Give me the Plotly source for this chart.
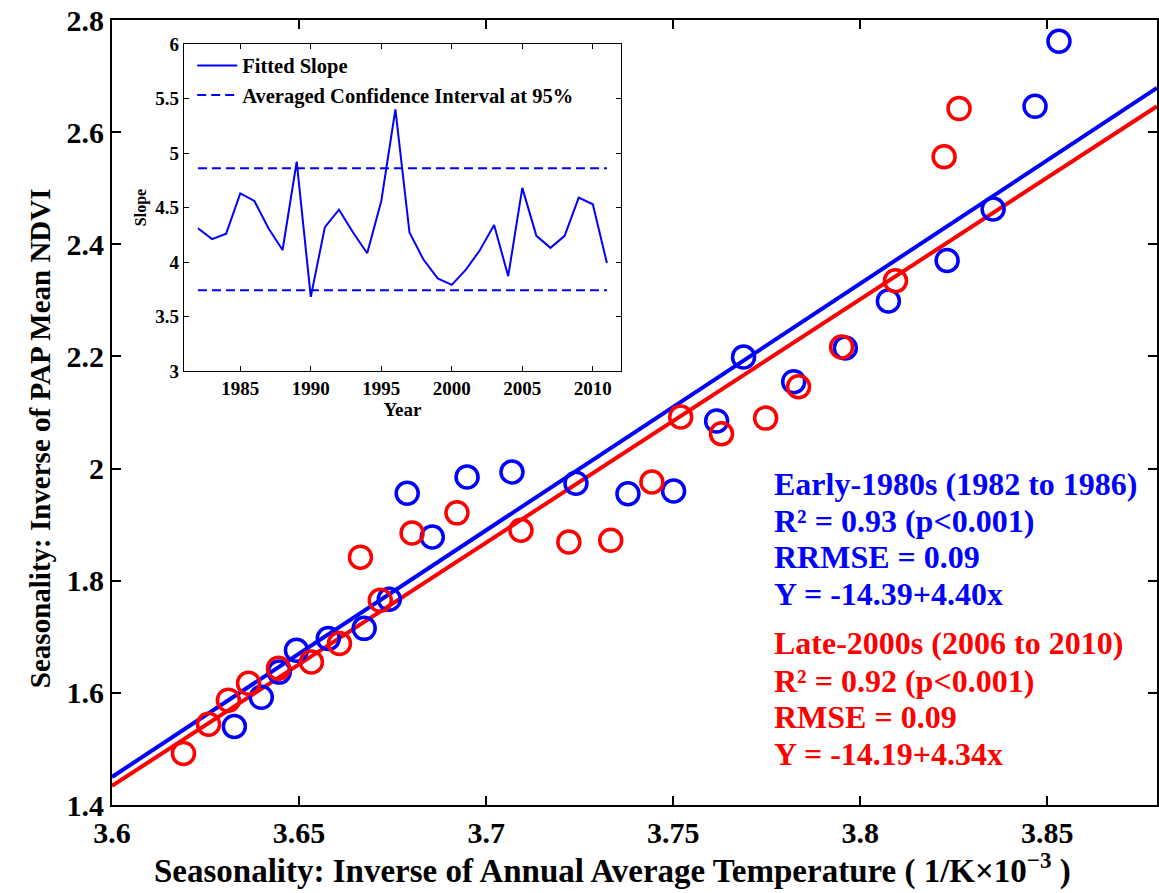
import plotly.graph_objects as go

# ---------------- data ----------------
early_x = [3.8531, 3.8467, 3.8355, 3.8232, 3.8075, 3.7960, 3.7822, 3.7688, 3.7616, 3.7501,
           3.7379, 3.7240, 3.7069, 3.6949, 3.6856, 3.6789, 3.6741, 3.6674, 3.6578, 3.6493,
           3.6447, 3.6399, 3.6327]
early_y = [2.762, 2.646, 2.463, 2.371, 2.299, 2.215, 2.155, 2.199, 2.085, 1.960,
           1.955, 1.974, 1.994, 1.985, 1.878, 1.956, 1.767, 1.715, 1.697, 1.676,
           1.637, 1.592, 1.540]
late_x = [3.8264, 3.8224, 3.8094, 3.7950, 3.7835, 3.7747, 3.7629, 3.7520, 3.7443, 3.7333,
          3.7221, 3.7093, 3.6922, 3.6802, 3.6664, 3.6717, 3.6608, 3.6533, 3.6445, 3.6365,
          3.6311, 3.6258, 3.6191]
late_y = [2.642, 2.556, 2.335, 2.217, 2.146, 2.090, 2.062, 2.092, 1.976, 1.872,
          1.869, 1.890, 1.921, 1.885, 1.842, 1.765, 1.688, 1.655, 1.644, 1.617,
          1.587, 1.544, 1.492]
early_intercept, early_slope = -14.39, 4.40
late_intercept, late_slope = -14.19, 4.34

years = list(range(1982, 2012))
fitted_slope = [4.31, 4.21, 4.26, 4.63, 4.56, 4.31, 4.11, 4.92, 3.68, 4.32,
                4.48, 4.27, 4.08, 4.56, 5.40, 4.27, 4.02, 3.85, 3.79, 3.93,
                4.11, 4.34, 3.87, 4.68, 4.24, 4.13, 4.24, 4.59, 4.53, 3.99]
ci_upper = 4.86
ci_lower = 3.74

x_ticks = [3.6, 3.65, 3.7, 3.75, 3.8, 3.85]
x_ticklabels = ["3.6", "3.65", "3.7", "3.75", "3.8", "3.85"]
y_ticks = [1.4, 1.6, 1.8, 2.0, 2.2, 2.4, 2.6, 2.8]
y_ticklabels = ["1.4", "1.6", "1.8", "2", "2.2", "2.4", "2.6", "2.8"]
inset_xticks = [1985, 1990, 1995, 2000, 2005, 2010]
inset_yticks = [3, 3.5, 4, 4.5, 5, 5.5, 6]
inset_yticklabels = ["3", "3.5", "4", "4.5", "5", "5.5", "6"]

x_title = "Seasonality: Inverse of Annual Average Temperature ( 1/K×10<sup>−3</sup> )"
y_title = "Seasonality: Inverse of PAP Mean NDVI"
early_text = ["Early-1980s (1982 to 1986)", "R² = 0.93 (p&lt;0.001)", "RRMSE = 0.09", "Y = -14.39+4.40x"]
late_text = ["Late-2000s (2006 to 2010)", "R² = 0.92 (p&lt;0.001)", "RMSE = 0.09", "Y = -14.19+4.34x"]

# ---------------- styling ----------------
BLUE = "#0000FF"
RED = "#FF0000"
SERIF = "Liberation Serif, Times New Roman, serif"
W, H = 1159, 893
ML, MR, MT, MB = 112, 0, 20, 88
x_range = [3.6, 3.8793]
y_range = [1.4, 2.8]
pw = W - ML - MR
ph = H - MT - MB


def px_x(p):
    return (p - ML) / pw


def px_y(p):
    return (H - MB - p) / ph


fig = go.Figure()

# fitted lines from the regression equations
fig.add_trace(go.Scatter(x=x_range, y=[early_intercept + early_slope * v for v in x_range],
                         mode="lines", line=dict(color=BLUE, width=4), showlegend=False,
                         xaxis="x", yaxis="y"))
fig.add_trace(go.Scatter(x=x_range, y=[late_intercept + late_slope * v for v in x_range],
                         mode="lines", line=dict(color=RED, width=4), showlegend=False,
                         xaxis="x", yaxis="y"))
fig.add_trace(go.Scatter(x=early_x, y=early_y, mode="markers",
                         marker=dict(symbol="circle-open", size=22, color=BLUE, line=dict(width=3.5, color=BLUE)),
                         showlegend=False, xaxis="x", yaxis="y"))
fig.add_trace(go.Scatter(x=late_x, y=late_y, mode="markers",
                         marker=dict(symbol="circle-open", size=22, color=RED, line=dict(width=3.5, color=RED)),
                         showlegend=False, xaxis="x", yaxis="y"))

# inset
fig.add_trace(go.Scatter(x=years, y=fitted_slope, mode="lines", name="<b>Fitted Slope</b>",
                         line=dict(color=BLUE, width=2), xaxis="x2", yaxis="y2"))
fig.add_trace(go.Scatter(x=[years[0], years[-1], None, years[0], years[-1]],
                         y=[ci_upper, ci_upper, None, ci_lower, ci_lower],
                         mode="lines", name="<b>Averaged Confidence Interval at 95%</b>",
                         line=dict(color=BLUE, width=2, dash="9px,5px"), xaxis="x2", yaxis="y2"))

ix0, ix1 = px_x(184), px_x(622)
iy0, iy1 = px_y(371), px_y(44)

axis_common = dict(showgrid=False, zeroline=False, linecolor="black", mirror="ticks",
                   ticks="inside", tickcolor="black")

fig.update_layout(
    width=W, height=H,
    margin=dict(l=ML, r=MR, t=MT, b=MB),
    paper_bgcolor="white", plot_bgcolor="white",
    font=dict(family=SERIF, color="black"),
    xaxis=dict(range=x_range, tickvals=x_ticks, ticktext=[f"<b>{t}</b>" for t in x_ticklabels],
               tickfont=dict(size=30), linewidth=2, ticklen=9, tickwidth=1.5,
               **axis_common),
    yaxis=dict(range=y_range, tickvals=y_ticks, ticktext=[f"<b>{t}</b>" for t in y_ticklabels],
               tickfont=dict(size=30), linewidth=2, ticklen=9, tickwidth=1.5,
               **axis_common),
    xaxis2=dict(domain=[ix0, ix1], anchor="y2", range=[1981, 2012], tickvals=inset_xticks,
                ticktext=[f"<b>{t}</b>" for t in inset_xticks], tickfont=dict(size=19),
                linewidth=1.2, ticklen=5, tickwidth=1,
                title=dict(text="<b>Year</b>", font=dict(size=19), standoff=0),
                **axis_common),
    yaxis2=dict(domain=[iy0, iy1], anchor="x2", range=[3, 6], tickvals=inset_yticks,
                ticktext=[f"<b>{t}</b>" for t in inset_yticklabels], tickfont=dict(size=19),
                linewidth=1.2, ticklen=5, tickwidth=1,
                title=dict(text="<b>Slope</b>", font=dict(size=16), standoff=4),
                **axis_common),
    legend=dict(x=ix0 + 0.008, y=iy1 - 0.002, xanchor="left", yanchor="top",
                bgcolor="rgba(0,0,0,0)", font=dict(size=20.5, family=SERIF),
                tracegroupgap=0, itemwidth=40),
)

# axis titles
fig.add_annotation(xref="paper", yref="paper", x=px_x(613), y=px_y(868), xanchor="center", yanchor="middle",
                   showarrow=False, text=f"<b>{x_title}</b>", font=dict(size=33, family=SERIF, color="black"))
fig.add_annotation(xref="paper", yref="paper", x=px_x(40), y=px_y(438), xanchor="center", yanchor="middle",
                   showarrow=False, textangle=-90, text=f"<b>{y_title}</b>",
                   font=dict(size=29, family=SERIF, color="black"))

# statistics text
row_y_early = [484, 521, 557, 594]
row_y_late = [643, 681, 717, 754]
for txt, py in zip(early_text, row_y_early):
    fig.add_annotation(xref="paper", yref="paper", x=px_x(773), y=px_y(py),
                       xanchor="left", yanchor="middle", showarrow=False,
                       text=f"<b>{txt}</b>", font=dict(size=32, color=BLUE, family=SERIF))
for txt, py in zip(late_text, row_y_late):
    fig.add_annotation(xref="paper", yref="paper", x=px_x(773), y=px_y(py),
                       xanchor="left", yanchor="middle", showarrow=False,
                       text=f"<b>{txt}</b>", font=dict(size=32, color=RED, family=SERIF))

fig.write_html("out.html")
